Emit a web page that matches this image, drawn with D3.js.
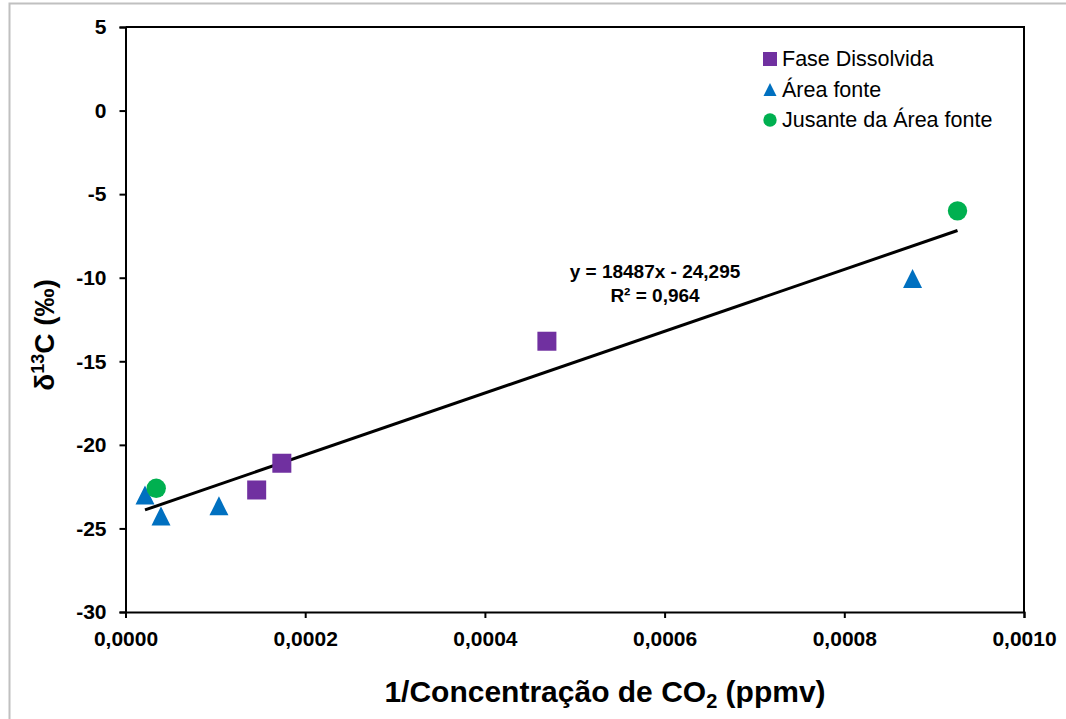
<!DOCTYPE html>
<html>
<head>
<meta charset="utf-8">
<script src="https://cdn.jsdelivr.net/npm/d3@7"></script>
<style>
  body { margin: 0; background: #fff; }
  svg { display: block; font-family: "Liberation Sans", Arial, sans-serif; }
</style>
</head>
<body>
<svg id="chart" width="1066" height="719"></svg>
<script>
// data
var faseX = [0.000146, 0.000174, 0.000469];
var faseY = [-22.7, -21.1, -13.8];

var areaX = [0.0000217, 0.0000395, 0.000104, 0.000876];
var areaY = [-23.0, -24.25, -23.65, -10.05];

var jusanteX = [0.0000342, 0.000926];
var jusanteY = [-22.6, -6.0];

var seriesNames = ["Fase Dissolvida", "Área fonte", "Jusante da Área fonte"];
var seriesColors = ["#7030A0", "#0070C0", "#00B050"];

var xTicks = [0, 0.0002, 0.0004, 0.0006, 0.0008, 0.0010];
var yTicks = [-30, -25, -20, -15, -10, -5, 0, 5];

// linear trend from the label
var slope = 18487, intercept = -24.295;

// position the svg
var svg = d3.select("#chart"),
    margin = {top: 27, right: 42, bottom: 107, left: 125.5},
    width = +svg.attr("width") - margin.left - margin.right,
    height = +svg.attr("height") - margin.top - margin.bottom;

// light outer frame
svg.append("rect")
    .attr("x", 9.5).attr("y", 3.5)
    .attr("width", 1080).attr("height", 740)
    .attr("fill", "none")
    .attr("stroke", "#c0c0c0")
    .attr("stroke-width", 2);

var g = svg.append("g").attr("transform", "translate(" + margin.left + "," + margin.top + ")");

var x = d3.scaleLinear().domain([0, 0.0010]).range([0, width]);
var y = d3.scaleLinear().domain([-30, 5]).range([height, 0]);

var ptLocale = d3.formatLocale({decimal: ",", thousands: ".", grouping: [3], currency: ["", ""], minus: "-"});
var fmtX = ptLocale.format(".4f");

// plot frame (top and right)
g.append("path")
    .attr("d", "M0,0H" + width + "V" + height)
    .attr("fill", "none")
    .attr("stroke", "#000")
    .attr("stroke-width", 2);

// x axis
var xAxis = g.append("g")
    .attr("transform", "translate(0," + height + ")")
    .call(d3.axisBottom(x).tickValues(xTicks).tickFormat(fmtX).tickSize(6).tickPadding(13));
xAxis.select(".domain").attr("stroke-width", 2);
xAxis.selectAll(".tick line").attr("stroke-width", 2);
xAxis.selectAll("text")
    .attr("font-size", 21)
    .attr("font-weight", "bold")
    .attr("font-family", "Liberation Sans, Arial, sans-serif")
    .attr("fill", "#000");

// y axis
var yAxis = g.append("g")
    .call(d3.axisLeft(y).tickValues(yTicks).tickFormat(function(d) { return String(d); }).tickSize(6).tickPadding(13));
yAxis.select(".domain").attr("stroke-width", 2);
yAxis.selectAll(".tick line").attr("stroke-width", 2);
yAxis.selectAll("text")
    .attr("font-size", 21)
    .attr("font-weight", "bold")
    .attr("font-family", "Liberation Sans, Arial, sans-serif")
    .attr("fill", "#000");

// trend line over the range of the data
var allX = faseX.concat(areaX, jusanteX);
var x0 = d3.min(allX), x1 = d3.max(allX);
g.append("line")
    .attr("x1", x(x0)).attr("y1", y(slope * x0 + intercept))
    .attr("x2", x(x1)).attr("y2", y(slope * x1 + intercept))
    .attr("stroke", "#000")
    .attr("stroke-width", 3);

// marker shapes
function trianglePath(s) {
  var h = s / 2;
  return "M0," + (-h) + "L" + h + "," + h + "L" + (-h) + "," + h + "Z";
}

function pairs(xs, ys) {
  return xs.map(function(v, i) { return [v, ys[i]]; });
}

g.append("g").selectAll("rect")
    .data(pairs(faseX, faseY))
    .enter().append("rect")
      .attr("x", function(d) { return x(d[0]) - 9.5; })
      .attr("y", function(d) { return y(d[1]) - 9.5; })
      .attr("width", 19).attr("height", 19)
      .attr("fill", seriesColors[0]);

g.append("g").selectAll("path")
    .data(pairs(areaX, areaY))
    .enter().append("path")
      .attr("d", trianglePath(19))
      .attr("transform", function(d) { return "translate(" + x(d[0]) + "," + y(d[1]) + ")"; })
      .attr("fill", seriesColors[1]);

g.append("g").selectAll("circle")
    .data(pairs(jusanteX, jusanteY))
    .enter().append("circle")
      .attr("cx", function(d) { return x(d[0]); })
      .attr("cy", function(d) { return y(d[1]); })
      .attr("r", 9.7)
      .attr("fill", seriesColors[2]);

// equation label
var eq = g.append("text")
    .attr("font-size", 19)
    .attr("font-weight", "bold")
    .attr("text-anchor", "middle")
    .attr("fill", "#000");
eq.append("tspan").attr("x", 655 - margin.left).attr("y", 278 - margin.top).text("y = 18487x - 24,295");
eq.append("tspan").attr("x", 655 - margin.left).attr("y", 301.5 - margin.top).text("R² = 0,964");

// legend
var legend = svg.append("g")
    .attr("font-size", 21.5)
    .selectAll("g")
    .data(seriesNames)
    .enter().append("g")
      .attr("transform", function(d, i) { return "translate(770," + (59 + i * 30.5) + ")"; });

legend.each(function(d, i) {
  var el = d3.select(this);
  if (i === 0) el.append("rect").attr("x", -7).attr("y", -7).attr("width", 14).attr("height", 14).attr("fill", seriesColors[0]);
  if (i === 1) el.append("path").attr("d", trianglePath(13)).attr("fill", seriesColors[1]);
  if (i === 2) el.append("circle").attr("r", 6.7).attr("fill", seriesColors[2]);
});

legend.append("text")
    .attr("x", 12)
    .attr("y", 7)
    .attr("fill", "#000")
    .text(function(d) { return d; });

// x title
var xt = svg.append("text")
    .attr("x", 605)
    .attr("y", 701.5)
    .attr("text-anchor", "middle")
    .attr("font-size", 30)
    .attr("font-weight", "bold")
    .attr("fill", "#000");
xt.append("tspan").text("1/Concentração de CO");
xt.append("tspan").attr("font-size", 20).attr("dy", 6).text("2");
xt.append("tspan").attr("dy", -6).text(" (ppmv)");

// y title
var yt = svg.append("text")
    .attr("transform", "translate(54,335) rotate(-90)")
    .attr("text-anchor", "middle")
    .attr("font-size", 28)
    .attr("font-weight", "bold")
    .attr("fill", "#000");
yt.append("tspan").text("δ");
yt.append("tspan").attr("font-size", 18).attr("dy", -10).text("13");
yt.append("tspan").attr("dy", 10).text("C (‰)");
</script>
</body>
</html>
